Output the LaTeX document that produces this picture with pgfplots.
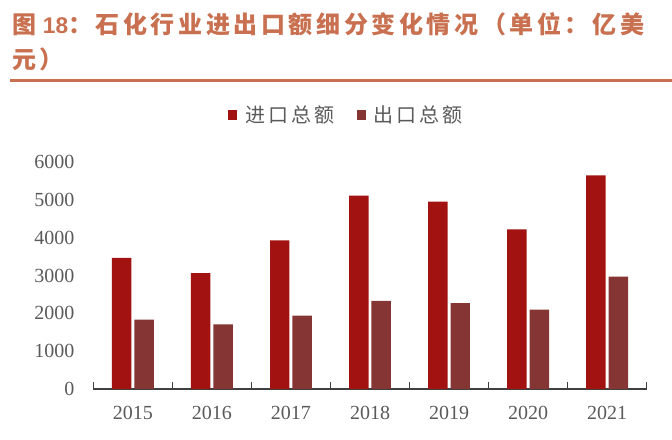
\documentclass[border=0pt]{standalone}
\usepackage{fontspec}
\setmainfont{Liberation Serif}
\newfontfamily\cjk{Noto Sans CJK SC}[LetterSpace=15]
\newfontfamily\cjklg{Noto Sans CJK SC}[LetterSpace=15]
\newfontfamily\arial{Liberation Sans}
\usepackage{pgfplots}
\pgfplotsset{compat=1.18}
\definecolor{imp}{HTML}{A11210}
\definecolor{exq}{HTML}{843534}
\definecolor{ttl}{HTML}{C8704F}
\definecolor{tk}{HTML}{5A5A5A}
\definecolor{ax}{HTML}{404040}
\begin{document}
\begin{tikzpicture}
\useasboundingbox (0,0) rectangle (504bp,330bp);
% title
\node[anchor=base west, inner sep=0pt, text=ttl, font=\cjk\bfseries\fontsize{18bp}{22bp}\selectfont]
  at (9bp,304.5bp) {图\hspace{5bp}{\arial\fontsize{17bp}{20bp}\selectfont 18}：石化行业进出口额细分变化情况（单位：亿美};
\node[anchor=base west, inner sep=0pt, text=ttl, font=\cjk\bfseries\fontsize{18bp}{22bp}\selectfont]
  at (9bp,278.5bp) {元）};
\draw[ttl, line width=2.25bp] (7.5bp,269.6bp) -- (504bp,269.6bp);
\begin{axis}[
  at={(70bp,38.25bp)}, anchor=south west,
  scale only axis, width=415bp, height=170.25bp,
  ybar=2.2bp, bar width=14.6bp,
  xmin=-0.5, xmax=6.5, ymin=0, ymax=6000,
  axis x line*=bottom, axis y line*=left,
  y axis line style={draw=none},
  x axis line style={draw=ax, line width=0.8bp},
  ytick={0,1000,...,6000}, ytick style={draw=none},
  xtick={-0.5,0.5,...,6.5},
  x tick label as interval,
  xticklabels={2015,2016,2017,2018,2019,2020,2021},
  xtick align=inside, major tick length=5.25bp,
  xtick style={draw=ax, line width=0.8bp},
  tick label style={font=\fontsize{15bp}{18bp}\selectfont, text=tk},
  yticklabel style={inner sep=0pt, xshift=-14bp},
  xticklabel style={inner sep=0pt, yshift=-13bp},
  scaled y ticks=false,
  /pgf/number format/assume math mode=true,
  /pgf/number format/1000 sep={},
  legend style={at={(0.2434,1.207)}, anchor=west, draw=none, fill=none,
    inner sep=0pt, nodes={inner sep=0pt},
    font=\cjklg\fontsize{15bp}{18bp}\selectfont, text=tk,
    /tikz/every odd column/.append style={column sep=6bp},
    /tikz/every even column/.append style={column sep=17bp}},
  legend columns=-1,
  legend image code/.code={\fill[#1] (0bp,-3.4bp) rectangle (6.75bp,3.4bp);},
]
\addplot[fill=imp, draw=none] coordinates {(0,3465) (1,3066) (2,3928) (3,5114) (4,4955) (5,4220) (6,5646)};
\addplot[fill=exq, draw=none] coordinates {(0,1835) (1,1710) (2,1941) (3,2332) (4,2270) (5,2100) (6,2970)};
\legend{进口总额,出口总额}
\end{axis}
\end{tikzpicture}
\end{document}
